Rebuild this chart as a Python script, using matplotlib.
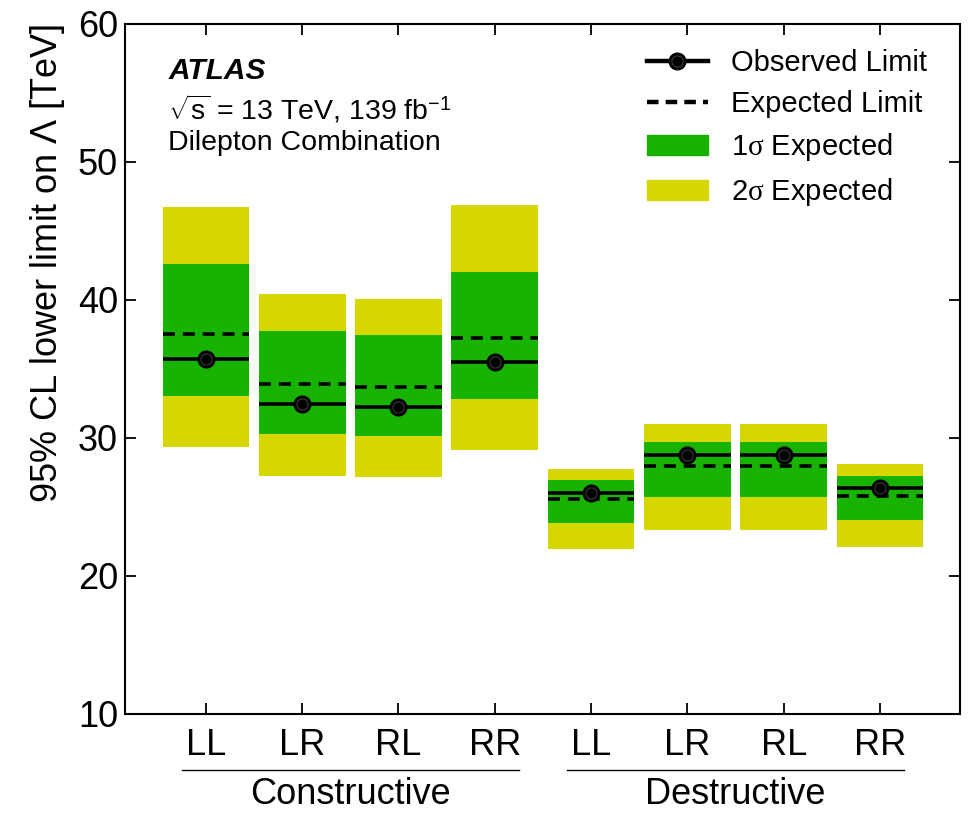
import numpy as np
import matplotlib
matplotlib.use("Agg")
import matplotlib.pyplot as plt
from matplotlib.lines import Line2D
from matplotlib.patches import Patch

plt.rcParams['font.family'] = ['Liberation Sans', 'DejaVu Sans']
plt.rcParams['mathtext.fontset'] = 'custom'
plt.rcParams['mathtext.rm'] = 'Liberation Sans'
plt.rcParams['mathtext.it'] = 'Liberation Serif'

# helicity structures, constructive then destructive interference
chiralities = ['LL', 'LR', 'RL', 'RR', 'LL', 'LR', 'RL', 'RR']
groups = ['Constructive', 'Destructive']

observed = [35.72, 32.49, 32.27, 35.48, 26.01, 28.77, 28.77, 26.40]
expected = [37.56, 33.94, 33.70, 37.27, 25.55, 27.95, 27.95, 25.82]
band1_lo = [33.04, 30.29, 30.14, 32.80, 23.84, 25.72, 25.72, 24.06]
band1_hi = [42.63, 37.75, 37.44, 42.01, 26.96, 29.71, 29.71, 27.25]
band2_lo = [29.37, 27.27, 27.17, 29.15, 21.96, 23.36, 23.33, 22.08]
band2_hi = [46.76, 40.43, 40.05, 46.88, 27.78, 30.99, 30.99, 28.14]

green = '#18b200'
yellow = '#d7d700'
lw = 2.6

x = np.arange(len(chiralities))
w = 0.9

fig = plt.figure(figsize=(9.73, 8.13), dpi=100)
ax = fig.add_axes([0.1285, 0.1218, 0.858, 0.8487])

ax.bar(x, np.subtract(band2_hi, band2_lo), bottom=band2_lo, width=w, color=yellow, zorder=1)
ax.bar(x, np.subtract(band1_hi, band1_lo), bottom=band1_lo, width=w, color=green, zorder=2)
ax.hlines(expected, x - w / 2, x + w / 2, colors='black', linewidth=lw,
          linestyles=(0, (3.3, 2.2)), zorder=3)
ax.hlines(observed, x - w / 2, x + w / 2, colors='black', linewidth=lw, zorder=4)
ax.plot(x, observed, 'o', color='black', markersize=12, zorder=5)
ax.plot(x, observed, 'o', mfc='none', mec='#3a3a3a', mew=0.8, markersize=8, zorder=6)

ax.set_xlim(-0.84, 7.83)
ax.set_ylim(10, 60)
ax.set_yticks([10, 20, 30, 40, 50, 60])
ax.set_xticks(x)
ax.set_xticklabels(chiralities)
ax.tick_params(axis='both', direction='in', top=True, right=True, length=8,
               width=1.3, labelsize=26)
ax.tick_params(axis='x', pad=10)
ax.tick_params(axis='y', pad=5)
for s in ax.spines.values():
    s.set_linewidth(1.5)
ax.set_ylabel(r'95% CL lower limit on $\Lambda$ [TeV]', fontsize=26, loc='top', labelpad=8)

# group brackets under the tick labels
trans = ax.get_xaxis_transform()
for (a, b), name in zip([(-0.25, 3.25), (3.75, 7.25)], groups):
    ax.plot([a, b], [-0.081, -0.081], color='black', linewidth=1.0,
            transform=trans, clip_on=False)
    ax.text((a + b) / 2, -0.131, name, transform=trans, ha='center', va='baseline',
            fontsize=26)

ax.text(0.052, 0.920, 'ATLAS', transform=ax.transAxes, fontsize=21.5,
        fontweight='bold', style='italic', va='baseline')
ax.text(0.052, 0.862, r'$\sqrt{\mathrm{s}}$ = 13 TeV, 139 fb$^{\mathrm{-1}}$',
        transform=ax.transAxes, fontsize=20.5, va='baseline')
ax.text(0.052, 0.817, 'Dilepton Combination', transform=ax.transAxes,
        fontsize=20.5, va='baseline')

obs_handle = (Line2D([], [], color='black', linewidth=lw + 0.6, marker='o', markersize=12),
              Line2D([], [], linestyle='none', marker='o', mfc='none', mec='#3a3a3a',
                     mew=0.8, markersize=8))
handles = [
    obs_handle,
    Line2D([], [], color='black', linewidth=lw + 0.6, linestyle=(0, (2.6, 1.6))),
    Patch(facecolor=green, edgecolor=green),
    Patch(facecolor=yellow, edgecolor=yellow),
]
labels = ['Observed Limit', 'Expected Limit', r'1$\sigma$ Expected', r'2$\sigma$ Expected']
ax.legend(handles, labels, loc='upper right', bbox_to_anchor=(0.975, 0.98),
          frameon=False, fontsize=21, handlelength=2.1, handletextpad=0.8,
          labelspacing=0.44, borderaxespad=0)

fig.savefig('out.png', dpi=100)
